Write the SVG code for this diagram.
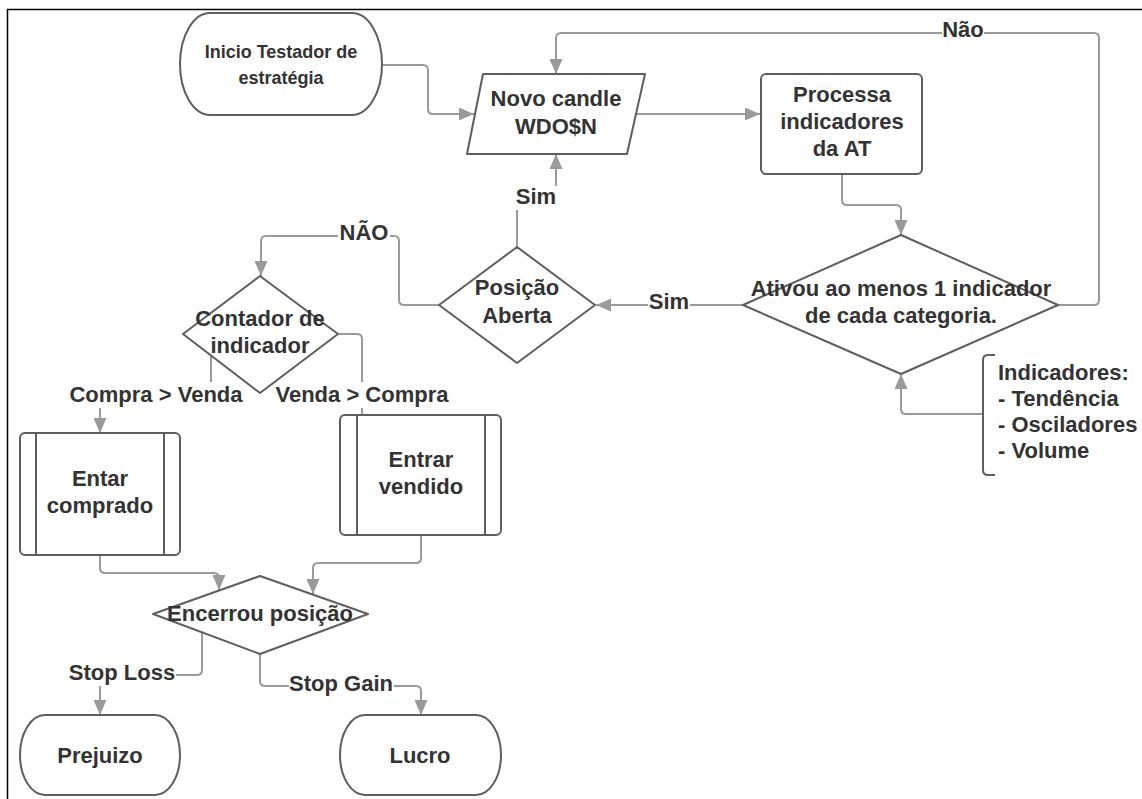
<svg xmlns="http://www.w3.org/2000/svg" width="1142" height="799" viewBox="0 0 1142 799">
<style>
.shape{fill:#fff;stroke:#5e5e5e;stroke-width:2;stroke-linejoin:round}
.conn{fill:none;stroke:#9a9a9a;stroke-width:2}
.t{font-family:"Liberation Sans",Arial,sans-serif;font-weight:bold;font-size:22px;fill:#333;text-anchor:middle}
.ts{font-size:18px}
.tl{text-anchor:start}
.lblbg{fill:#fff}
</style>
<defs>
<marker id="arr" markerUnits="userSpaceOnUse" markerWidth="15" markerHeight="13" refX="15" refY="6.5" orient="auto">
<path d="M0,0 L15,6.5 L0,13 z" fill="#9a9a9a"/>
</marker>
</defs>
<rect width="1142" height="799" fill="#fff"/>
<path d="M7.5,799 V9.5 H1142" fill="none" stroke="#000" stroke-width="1.5"/>

<g id="connectors">
<path class="conn" d="M382,65 H423 Q428,65 428,70 V109 Q428,114 433,114 H474" marker-end="url(#arr)"/>
<path class="conn" d="M636,114 H760" marker-end="url(#arr)"/>
<path class="conn" d="M842,174 V200 Q842,205 847,205 H896 Q901,205 901,210 V235" marker-end="url(#arr)"/>
<path class="conn" d="M1058,305 H1094 Q1099,305 1099,300 V38 Q1099,33 1094,33 H561 Q556,33 556,38 V74" marker-end="url(#arr)"/>
<path class="conn" d="M743,305 H596" marker-end="url(#arr)"/>
<path class="conn" d="M517,247 V199 H556 V154" marker-end="url(#arr)"/>
<path class="conn" d="M439,305 H404 Q399,305 399,300 V241 Q399,236 394,236 H266 Q261,236 261,241 V276" marker-end="url(#arr)"/>
<path class="conn" d="M211,356 V394 H100 V433" marker-end="url(#arr)"/>
<path class="conn" d="M338,334 H357 Q362,334 362,339 V415"/>
<path class="conn" d="M100,555 V568 Q100,573 105,573 H214 Q219,573 219,578 V590" marker-end="url(#arr)"/>
<path class="conn" d="M421,535 V558 Q421,563 416,563 H318 Q313,563 313,568 V594" marker-end="url(#arr)"/>
<path class="conn" d="M202,633 V670 Q202,675 197,675 H100 V715" marker-end="url(#arr)"/>
<path class="conn" d="M260,654 V681 Q260,686 265,686 H416 Q421,686 421,691 V715" marker-end="url(#arr)"/>
<path class="conn" d="M983,414 H906 Q901,414 901,409 V374" marker-end="url(#arr)"/>
<!-- labels -->
<rect class="lblbg" x="942" y="20" width="42" height="24"/>
<text class="t" x="963" y="37">Não</text>
<rect class="lblbg" x="648" y="292" width="42" height="24"/>
<text class="t" x="669" y="309">Sim</text>
<rect class="lblbg" x="515" y="186" width="42" height="24"/>
<text class="t" x="536" y="204">Sim</text>
<rect class="lblbg" x="338" y="222" width="52" height="24"/>
<text class="t" x="364" y="240">NÃO</text>
<rect class="lblbg" x="66" y="382" width="180" height="26"/>
<text class="t" x="156" y="402">Compra &gt; Venda</text>
<rect class="lblbg" x="274" y="382" width="176" height="26"/>
<text class="t" x="362" y="402">Venda &gt; Compra</text>
<rect class="lblbg" x="68" y="662" width="108" height="24"/>
<text class="t" x="122" y="680">Stop Loss</text>
<rect class="lblbg" x="289" y="673" width="105" height="24"/>
<text class="t" x="341" y="691">Stop Gain</text>
</g>

<g id="start">
<rect class="shape" x="180" y="13" width="202" height="102" rx="30" ry="51"/>
<text class="t ts" x="281" y="58">Inicio Testador de</text>
<text class="t ts" x="281" y="84">estratégia</text>
</g>

<g id="novo-candle">
<polygon class="shape" points="483,74 645,74 627,154 467,154"/>
<text class="t" x="556" y="106">Novo candle</text>
<text class="t" x="556" y="134">WDO$N</text>
</g>

<g id="processa">
<rect class="shape" x="761" y="74" width="161" height="100" rx="5"/>
<text class="t" x="842" y="102">Processa</text>
<text class="t" x="842" y="129">indicadores</text>
<text class="t" x="842" y="156">da AT</text>
</g>

<g id="ativou">
<polygon class="shape" points="901,235 1058,305 901,374 743,305"/>
<text class="t" x="901" y="296">Ativou ao menos 1 indicador</text>
<text class="t" x="901" y="323">de cada categoria.</text>
</g>

<g id="indicadores">
<path d="M995,355 H988 Q983,355 983,360 V470 Q983,475 988,475 H995" fill="none" stroke="#5e5e5e" stroke-width="2"/>
<text class="t tl" x="998" y="380">Indicadores:</text>
<text class="t tl" x="998" y="406">- Tendência</text>
<text class="t tl" x="998" y="432">- Osciladores</text>
<text class="t tl" x="998" y="458">- Volume</text>
</g>

<g id="posicao">
<polygon class="shape" points="517,247 595,305 517,363 439,305"/>
<text class="t" x="517" y="295">Posição</text>
<text class="t" x="517" y="323">Aberta</text>
</g>

<g id="contador">
<polygon class="shape" points="260,276 338,334 260,393 183,334"/>
<text class="t" x="260" y="326">Contador de</text>
<text class="t" x="260" y="353">indicador</text>
</g>

<g id="entar-comprado">
<rect class="shape" x="20" y="433" width="160" height="122" rx="5"/>
<path d="M36,433 V555 M164,433 V555" stroke="#5e5e5e" stroke-width="2"/>
<text class="t" x="100" y="486">Entar</text>
<text class="t" x="100" y="513">comprado</text>
</g>

<g id="entrar-vendido">
<rect class="shape" x="340" y="415" width="161" height="120" rx="5"/>
<path d="M357,415 V535 M485,415 V535" stroke="#5e5e5e" stroke-width="2"/>
<text class="t" x="421" y="467">Entrar</text>
<text class="t" x="421" y="494">vendido</text>
</g>

<g id="encerrou">
<polygon class="shape" points="260,576 368,614 260,654 153,614"/>
<text class="t" x="260" y="621">Encerrou posição</text>
</g>

<g id="prejuizo">
<rect class="shape" x="20" y="715" width="160" height="80" rx="25" ry="40"/>
<text class="t" x="100" y="763">Prejuizo</text>
</g>

<g id="lucro">
<rect class="shape" x="340" y="715" width="161" height="80" rx="25" ry="40"/>
<text class="t" x="420" y="763">Lucro</text>
</g>
</svg>
